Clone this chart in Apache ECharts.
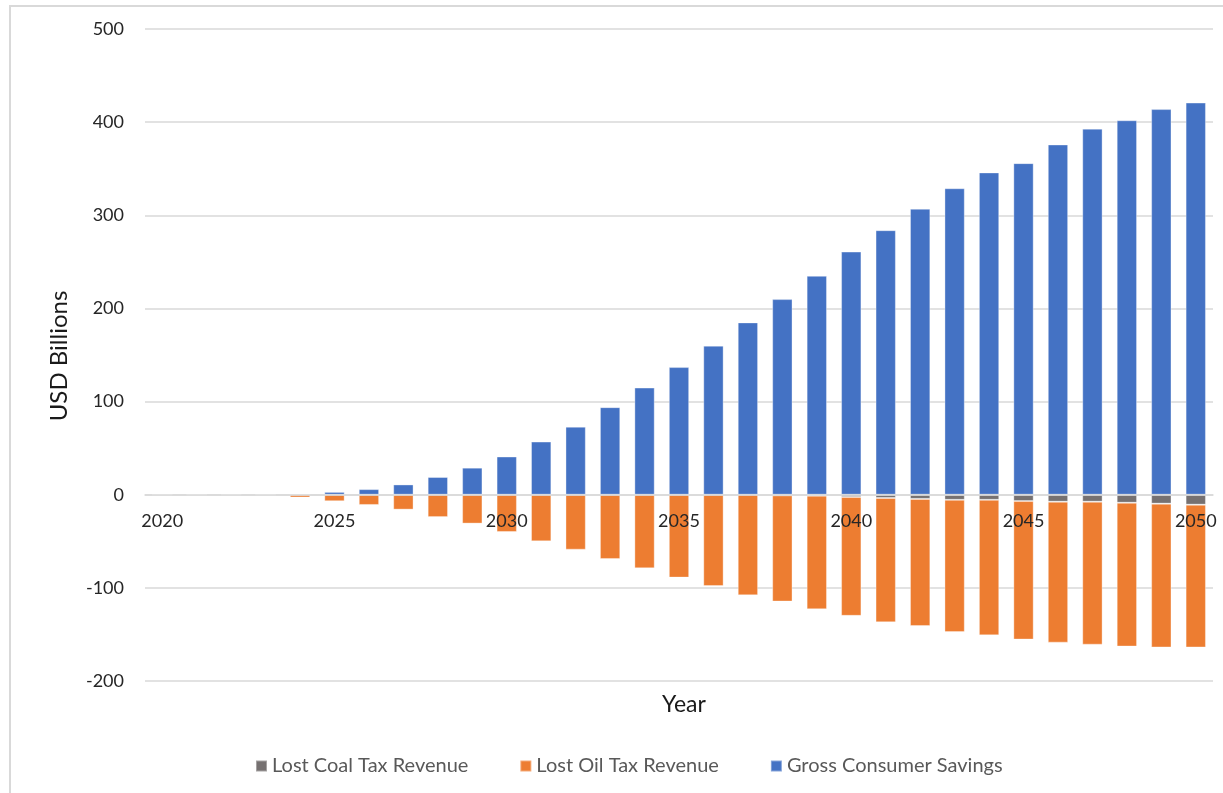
<!DOCTYPE html>
<html>
<head>
<meta charset="utf-8">
<script src="https://cdn.jsdelivr.net/npm/echarts@6/dist/echarts.min.js"></script>
<style>
  html, body { margin: 0; padding: 0; background: #fff; }
  #chart { width: 1223px; height: 793px; }
</style>
</head>
<body>
<div id="chart"></div>
<script>
// Years on the category axis
const years = [];
for (let y = 2020; y <= 2050; y++) years.push(String(y));

// USD billions per year, 2020–2050
const lostCoalTax = [0, 0, 0, 0, 0, 0, 0, 0, 0, 0, 0, 0, 0, 0, 0, 0, 0, 0, -0.7, -1, -2.5, -3.5, -4.5, -5.5, -5.5, -6.8, -7.5, -7.5, -8.6, -9.6, -10.7];
const lostOilTax = [0, 0, 0, 0, -3, -7, -11, -16, -24, -31, -40, -50, -59, -69, -79, -89, -98, -108, -114, -122, -127.5, -133.5, -136.5, -142, -145.5, -148.7, -151.3, -153.5, -154.4, -154.4, -153.3];
const grossSavings = [0, 0, 0, 0, 0, 3, 6, 11, 19, 29, 41, 57, 73, 94, 115, 137, 160, 185, 210, 235, 261, 284, 307, 329, 346, 356, 376, 393, 402, 414, 421];

const seriesNames = ['Lost Coal Tax Revenue', 'Lost Oil Tax Revenue', 'Gross Consumer Savings'];
const FONT = 'Lato, "Open Sans", sans-serif';

// value range and plot box
const Y_MIN = -200, Y_MAX = 500, Y_STEP = 100;
const GRID = { left: 145, right: 10, top: 29, bottom: 112 };
const CHART_H = 793;
const plotH = CHART_H - GRID.top - GRID.bottom;
// lift the year axis from the bottom edge up to the zero line
const zeroLift = (0 - Y_MIN) / (Y_MAX - Y_MIN) * plotH;

const chart = echarts.init(document.getElementById('chart'));

function barSeries(name, data, color) {
  return {
    name: name,
    type: 'bar',
    stack: 'total',
    data: data,
    barCategoryGap: '41%',
    itemStyle: { color: color, borderColor: 'rgba(255,255,255,0.35)', borderWidth: 1 },
    emphasis: { disabled: true }
  };
}

chart.setOption({
  animation: false,
  backgroundColor: '#fff',
  textStyle: { fontFamily: FONT },
  title: {
    text: 'Year',
    left: 679,
    textAlign: 'center',
    top: 688,
    textStyle: { fontFamily: FONT, fontSize: 23, fontWeight: 'normal', color: '#1a1a1a' }
  },
  graphic: [
    {
      type: 'rect',
      shape: { x: 10, y: 6, width: 1400, height: 1000 },
      style: { fill: 'none', stroke: '#d9d9d9', lineWidth: 2 },
      silent: true,
      z: -1
    },
    {
      type: 'text',
      x: 59,
      y: 356,
      rotation: Math.PI / 2,
      style: {
        text: 'USD Billions',
        fontFamily: FONT,
        fontSize: 24,
        fill: '#1a1a1a',
        align: 'center',
        verticalAlign: 'middle'
      },
      silent: true
    }
  ],
  legend: {
    data: seriesNames,
    top: 751,
    left: 250,
    itemWidth: 11,
    itemHeight: 11,
    itemGap: 51,
    icon: 'rect',
    textStyle: { fontFamily: FONT, fontSize: 20, color: '#595959' }
  },
  grid: { left: GRID.left, right: GRID.right, top: GRID.top, bottom: GRID.bottom },
  xAxis: {
    type: 'category',
    data: years,
    z: 5,
    position: 'bottom',
    offset: -zeroLift,
    axisLine: { onZero: false, lineStyle: { color: '#d9d9d9', width: 1.5 } },
    axisTick: { show: false },
    axisLabel: { interval: 4, margin: 17, fontFamily: FONT, fontSize: 18, color: '#262626' }
  },
  yAxis: {
    type: 'value',
    min: Y_MIN,
    max: Y_MAX,
    interval: Y_STEP,
    axisLine: { show: false },
    axisTick: { show: false },
    splitLine: { lineStyle: { color: '#d9d9d9', width: 1.5 } },
    axisLabel: { margin: 21, fontFamily: FONT, fontSize: 18, color: '#262626' }
  },
  series: [
    barSeries(seriesNames[0], lostCoalTax, '#767171'),
    barSeries(seriesNames[1], lostOilTax, '#ED7D31'),
    barSeries(seriesNames[2], grossSavings, '#4472C4')
  ]
});
</script>
</body>
</html>
